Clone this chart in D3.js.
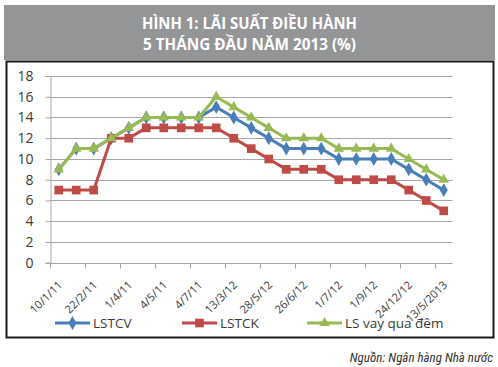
<!DOCTYPE html>
<html>
<head>
<meta charset="utf-8">
<script src="https://cdn.jsdelivr.net/npm/d3@7"></script>
<style>
  html, body { margin: 0; padding: 0; background: #fff; }
  svg { display: block; }
</style>
</head>
<body>
<svg id="chart" width="498" height="367"></svg>
<script>
// ---- data ----
const titleLines = ["HÌNH 1: LÃI SUẤT ĐIỀU HÀNH", "5 THÁNG ĐẦU NĂM 2013 (%)"];
const categories = ["10/1/11", "", "22/2/11", "", "1/4/11", "", "4/5/11", "", "4/7/11", "", "13/3/12", "",
                    "28/5/12", "", "26/6/12", "", "1/7/12", "", "1/9/12", "", "24/12/12", "", "13/5/2013"];
const lstcv = [9, 11, 11, 12, 13, 14, 14, 14, 14, 15, 14, 13, 12, 11, 11, 11, 10, 10, 10, 10, 9, 8, 7];
const lstck = [7, 7, 7, 12, 12, 13, 13, 13, 13, 13, 12, 11, 10, 9, 9, 9, 8, 8, 8, 8, 7, 6, 5];
const lsqd  = [9, 11, 11, 12, 13, 14, 14, 14, 14, 16, 15, 14, 13, 12, 12, 12, 11, 11, 11, 11, 10, 9, 8];
const yTicks = [0, 2, 4, 6, 8, 10, 12, 14, 16, 18];
const seriesNames = ["LSTCV", "LSTCK", "LS vay qua đêm"];
const sourceText = "Nguồn: Ngân hàng Nhà nước";

const series = [
  { name: seriesNames[0], values: lstcv, color: "#4A7EBB", marker: d3.symbolDiamond, size: 55 },
  { name: seriesNames[1], values: lstck, color: "#BE4B48", marker: d3.symbolSquare, size: 75 },
  { name: seriesNames[2], values: lsqd,  color: "#98B954", marker: d3.symbolTriangle, size: 48 }
];

const svg = d3.select("#chart");

// ---- title banner ----
const titleWidths = [215, 213];
svg.append("rect").attr("x", 4).attr("y", 5).attr("width", 491).attr("height", 55).attr("fill", "#949597");
svg.selectAll("text.title").data(titleLines).join("text")
  .attr("class", "title")
  .attr("x", 249.5).attr("y", (d, i) => 29 + i * 21)
  .attr("text-anchor", "middle")
  .attr("font-family", "'Open Sans', sans-serif")
  .attr("font-weight", "bold")
  .attr("font-size", 15.5)
  .attr("textLength", (d, i) => titleWidths[i])
  .attr("lengthAdjust", "spacingAndGlyphs")
  .attr("fill", "#fff")
  .text(d => d);

// ---- frame ----
svg.append("rect").attr("x", 6.5).attr("y", 61.5).attr("width", 487).attr("height", 276)
  .attr("fill", "#fff").attr("stroke", "#1a1a1a").attr("stroke-width", 2);

// ---- scales ----
const x = d3.scaleBand().domain(d3.range(categories.length)).range([50, 452.5]).padding(0);
const cx = i => x(i) + x.bandwidth() / 2;
const y = d3.scaleLinear().domain([0, 18]).range([262.7, 76]);

const gridColor = "#A6A6A6";
const textColor = "#3a3a3a";
const font = "'Open Sans', sans-serif";

// gridlines
svg.append("g").selectAll("line").data(yTicks.filter(d => d > 0)).join("line")
  .attr("x1", 50).attr("x2", 452.5)
  .attr("y1", d => Math.round(y(d)) + 0.5).attr("y2", d => Math.round(y(d)) + 0.5)
  .attr("stroke", gridColor).attr("stroke-width", 1);

// y axis
const yAxis = svg.append("g").attr("transform", "translate(50.5,0)")
  .call(d3.axisLeft(y).tickValues(yTicks).tickSize(5).tickPadding(12).tickFormat(d3.format("d")));
yAxis.select(".domain").attr("stroke", gridColor);
yAxis.selectAll(".tick line").attr("stroke", gridColor);
yAxis.selectAll(".tick text").attr("font-family", font).attr("font-size", 14).attr("fill", textColor);

// x axis
const xAxisG = svg.append("g").attr("transform", `translate(0,${Math.round(y(0)) + 0.5})`);
xAxisG.append("line").attr("x1", 50).attr("x2", 452.5).attr("stroke", gridColor);
const tickIdx = d3.range(categories.length).filter(i => categories[i] !== "");
xAxisG.selectAll("line.tk").data(tickIdx).join("line").attr("class", "tk")
  .attr("x1", i => Math.round(x(i)) + 0.5).attr("x2", i => Math.round(x(i)) + 0.5)
  .attr("y1", 0).attr("y2", 5).attr("stroke", gridColor);
xAxisG.selectAll("text").data(tickIdx).join("text")
  .attr("transform", i => `translate(${cx(i) + 1.5},${19.5}) rotate(-45)`)
  .attr("text-anchor", "end")
  .attr("dy", "0.35em")
  .attr("font-family", font).attr("font-size", 11.2).attr("fill", textColor)
  .text(i => categories[i]);

// ---- lines ----
const line = d3.line().x((d, i) => cx(i)).y(d => y(d));
const sg = svg.append("g").selectAll("g").data(series).join("g");
sg.append("path")
  .attr("d", s => line(s.values))
  .attr("fill", "none").attr("stroke", s => s.color).attr("stroke-width", 3).attr("stroke-linejoin", "round");
sg.each(function(s) {
  d3.select(this).selectAll("path.m").data(s.values).join("path").attr("class", "m")
    .attr("transform", (d, i) => `translate(${cx(i)},${y(d)})`)
    .attr("d", d3.symbol().type(s.marker).size(s.size))
    .attr("fill", s.color);
});

// ---- legend ----
const legendX = [55, 182, 307];
const lg = svg.append("g").selectAll("g").data(series).join("g")
  .attr("transform", (s, i) => `translate(${legendX[i]},323)`);
lg.append("line").attr("x1", 0).attr("x2", 35).attr("stroke", s => s.color).attr("stroke-width", 3);
lg.append("path").attr("transform", "translate(17.5,0)")
  .attr("d", s => d3.symbol().type(s.marker).size(s.size)())
  .attr("fill", s => s.color);
lg.append("text").attr("x", 38).attr("dy", "0.35em")
  .attr("font-family", font).attr("font-size", 13.5).attr("fill", textColor)
  .text(s => s.name);

// ---- source ----
svg.append("text").attr("x", 493).attr("y", 362).attr("text-anchor", "end")
  .attr("font-family", "'Liberation Sans Narrow', 'Roboto Condensed', sans-serif")
  .attr("font-style", "italic").attr("font-size", 13).attr("fill", "#333")
  .text(sourceText);
</script>
</body>
</html>
